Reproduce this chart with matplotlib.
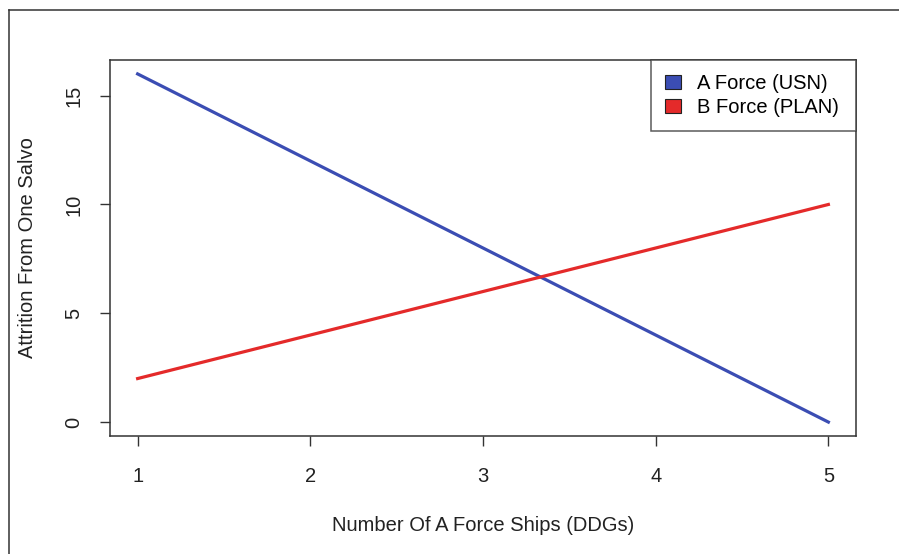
import matplotlib.pyplot as plt
from matplotlib.patches import Patch
from matplotlib.lines import Line2D

# ---- data ----
ships = [1, 2, 3, 4, 5]
a_force = [16, 12, 8, 4, 0]
b_force = [2, 4, 6, 8, 10]
series_names = ["A Force (USN)", "B Force (PLAN)"]
x_ticks = [1, 2, 3, 4, 5]
y_ticks = [0, 5, 10, 15]

blue = "#3b4db3"
red = "#e42a2a"
fs = 14.5

plt.rcParams['font.family'] = ['Liberation Sans', 'DejaVu Sans']

fig = plt.figure(figsize=(8.99, 5.54), dpi=100)
ax = fig.add_axes([110 / 899, (554 - 436) / 554, 746 / 899, 376 / 554])

ax.plot(ships, a_force, color=blue, lw=2.3)
ax.plot(ships, b_force, color=red, lw=2.3)

ax.set_xlim(0.84, 5.16)
ax.set_ylim(-0.64, 16.64)
ax.set_xticks(x_ticks)
ax.set_yticks(y_ticks)
ax.set_xticklabels([str(t) for t in x_ticks])
ax.set_yticklabels([str(t) for t in y_ticks], rotation=90, va='center')
ax.tick_params(length=7, width=1, colors="#333333", labelcolor="#222222",
               labelsize=fs)
ax.tick_params(axis='x', pad=15)
ax.tick_params(axis='y', pad=12)
for s in ax.spines.values():
    s.set_color("#333333")
    s.set_linewidth(1.1)

ax.set_xlabel("Number Of A Force Ships (DDGs)", fontsize=fs, color="#222222", labelpad=22)
ax.set_ylabel("Attrition From One Salvo", fontsize=fs, color="#222222", labelpad=20)

handles = [Patch(facecolor=blue, edgecolor="#222222", lw=0.8),
           Patch(facecolor=red, edgecolor="#222222", lw=0.8)]
leg = ax.legend(handles, series_names, loc='upper left', mode='expand',
                bbox_to_anchor=((651 - 110) / 746, 0, (856 - 651) / 746, 1.0),
                fontsize=fs, frameon=True, fancybox=False, borderaxespad=0,
                handlelength=0.8, handleheight=0.65, handletextpad=0.8,
                borderpad=0.7, labelspacing=0.25)
leg.get_frame().set_edgecolor("#333333")
leg.get_frame().set_linewidth(1.1)

# outer frame (top and left only visible)
fig.add_artist(Line2D([9 / 899, 1], [1 - 10 / 554, 1 - 10 / 554],
                      transform=fig.transFigure, color="#333333", lw=1.1))
fig.add_artist(Line2D([9 / 899, 9 / 899], [0, 1 - 10 / 554],
                      transform=fig.transFigure, color="#333333", lw=1.1))

fig.savefig("out.png", dpi=100)
